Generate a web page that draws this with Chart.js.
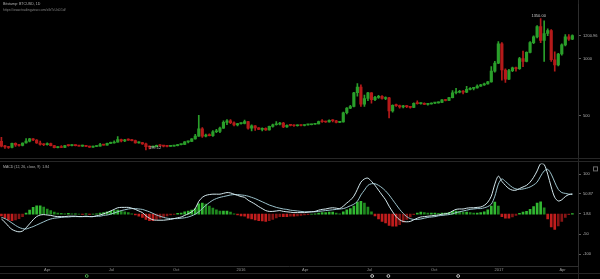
<!DOCTYPE html>
<html>
<head>
<meta charset="utf-8">
<title>BTCUSD 1D with MACD</title>
<script src="https://cdn.jsdelivr.net/npm/chart.js@4"></script>
<style>
  html, body { margin: 0; padding: 0; background: #000; }
  #wrap { position: relative; width: 600px; height: 279px; background: #000; overflow: hidden; }
  #wrap canvas { position: absolute; left: 0; }
  #priceChart { top: 0; }
  #macdChart { top: 159px; }
  .rule { position: absolute; background: #262626; }
</style>
</head>
<body>
<div id="wrap">
  <div class="rule" style="left:0;top:158px;width:600px;height:1px"></div>
  <div class="rule" style="left:0;top:161px;width:600px;height:1px"></div>
  <div class="rule" style="left:0;top:273px;width:600px;height:1px"></div>
  <div class="rule" style="left:578px;top:0;width:1px;height:279px"></div>
  <canvas id="priceChart" width="600" height="159"></canvas>
  <canvas id="macdChart" width="600" height="120"></canvas>
</div>
<script>
// Chart text
const chartTitle = "Bitstamp: BTCUSD, 1D";
const chartLink = "https://www.tradingview.com/x/bTcUsD1d/";
const macdTitle = "MACD (12, 26, close, 9)  1.84";

// Candles: one every 5 days, first one starting on this date
const firstCandle = "2015-01-26";
const periodDays = 5;
const viewStart = "2015-01-24";
const viewEnd = "2017-04-23";

const opens = [275,232,226,220,257,242,238,260,276,296,286,260,247,244,255,236,219,224,220,237,
  236,240,237,232,238,230,224,229,233,245,241,256,260,268,290,278,288,285,281,261,
  264,252,228,225,228,240,235,232,230,232,237,245,247,270,274,296,320,385,320,330,
  324,358,362,390,440,455,437,418,430,432,447,390,410,392,378,389,374,406,420,425,
  434,400,415,414,411,415,413,418,420,424,428,447,446,444,458,455,440,445,525,565,
  580,700,750,600,650,700,640,660,670,650,655,540,590,588,575,585,578,572,608,605,
  608,598,602,610,612,616,638,632,658,700,705,712,706,730,738,742,758,770,778,795,
  890,960,1130,900,820,895,918,912,1000,975,1055,1140,1190,1280,1160,1220,1245,990,945,1040,
  1120,1190,1170];
const highs = [310,240,230,260,262,248,262,298,300,298,290,276,254,262,258,240,229,237,240,243,
  246,244,240,242,240,232,232,236,256,249,258,268,278,315,294,292,296,292,285,270,
  266,258,234,233,242,245,237,233,238,240,248,249,272,276,298,335,502,395,338,340,
  368,380,400,455,465,465,445,432,436,460,450,420,412,395,392,392,408,425,447,442,
  440,418,420,420,418,420,420,424,426,430,452,465,452,462,464,458,446,530,570,590,
  705,780,770,680,705,702,670,677,675,665,660,595,600,592,590,590,580,612,630,612,
  612,605,612,615,620,640,642,660,720,740,722,720,756,745,745,770,775,785,800,930,
  975,1150,1140,910,905,925,925,1010,1065,1060,1150,1200,1290,1350,1330,1260,1255,1060,1045,1130,
  1210,1210,1208];
const lows = [225,212,213,216,230,232,235,258,270,280,255,240,236,241,234,216,216,218,218,232,
  234,235,231,230,228,220,222,227,232,240,240,254,258,266,270,272,282,278,258,258,
  248,199.12,208,222,226,234,226,225,229,231,235,242,246,260,272,294,318,308,314,322,
  318,350,350,388,420,430,410,410,425,428,380,365,370,376,365,370,372,398,416,418,
  395,396,410,406,408,410,410,416,418,422,427,440,440,442,445,436,438,442,515,560,
  575,670,580,580,630,610,630,650,645,640,480,530,580,565,568,570,565,570,600,600,
  595,592,600,604,608,614,628,630,655,690,698,690,700,725,726,740,755,765,775,792,
  880,955,810,790,815,885,890,905,930,970,1050,1130,1180,1140,975,1200,975,890,935,1030,
  1110,1160,1165];
const closes = [232,226,220,257,242,238,260,276,296,286,260,247,244,255,236,219,224,220,237,236,
  240,237,232,238,230,224,229,233,245,241,256,260,268,290,278,288,285,281,261,264,
  252,228,225,228,240,235,232,230,232,237,245,247,270,274,296,320,385,320,330,324,
  358,362,390,440,455,437,418,430,432,447,390,410,392,378,389,374,406,420,425,434,
  400,415,414,411,415,413,418,420,424,428,447,446,444,458,455,440,445,525,565,580,
  700,750,600,650,700,640,660,670,650,655,540,590,588,575,585,578,572,608,605,608,
  598,602,610,612,616,638,632,658,700,705,712,706,730,738,742,758,770,778,795,890,
  960,1130,900,820,895,918,912,1000,975,1055,1140,1190,1280,1160,1220,1245,990,945,1040,1120,
  1190,1170,1200.96];

// MACD pane
const macdLine = [-12,-20,-30,-38,-42,-44,-42,-34,-24,-14,-6,-2,-1,-2,-3,-5,-6,-6,-6,-5,
  -5,-5,-6,-6,-5,-6,-6,-4,-2,1,4,8,12,16,17,17,17,15,12,8,
  4,-4,-10,-14,-15,-15,-15,-14,-13,-11,-9,-7,-3,1,6,14,32,42,47,49,
  50,50,50,52,54,53,50,47,44,42,35,30,25,19,14,9,7,7,8,9,
  7,6,5,4,4,4,4,5,6,7,10,12,13,15,16,15,14,20,28,35,
  45,62,80,88,90,82,72,60,48,36,20,6,-6,-14,-18,-19,-18,-14,-10,-7,
  -6,-5,-4,-3,-2,0,1,3,8,12,13,13,15,16,16,17,18,22,30,45,
  75,95,82,72,64,60,60,64,68,72,80,92,108,126,124,100,68,42,33,36,
  44,49,50.87];
const signalLine = [-8,-11,-16,-22,-28,-33,-36,-37,-34,-31,-27,-23,-19,-15,-12,-10,-9,-8,-7,-7,
  -6,-6,-6,-6,-6,-6,-6,-5,-5,-3,-2,0,3,6,9,11,13,14,14,13,
  12,9,6,2,-2,-5,-8,-10,-11,-11,-11,-10,-9,-7,-4,0,6,14,22,29,
  35,39,42,44,46,48,49,49,48,47,45,42,39,35,31,27,23,20,17,15,
  13,12,10,9,8,7,6,6,6,6,7,8,9,10,11,12,13,14,17,21,
  25,32,48,60,72,76,76,72,66,58,48,36,24,12,2,-6,-11,-13,-13,-12,
  -10,-8,-7,-6,-4,-3,-2,-1,1,4,6,8,10,12,13,14,14,16,19,25,
  45,75,88,82,74,67,63,62,63,65,68,73,80,95,108,112,100,80,62,54,
  52,50,49.03];
const histogram = [-4,-9,-14,-16,-14,-11,-6,3,10,17,21,21,18,13,9,5,3,2,1,2,
  1,1,0.3,-0.3,1,-0.4,0.2,1,3,4,6,8,9,10,8,6,4,1,-2,-5,
  -8,-13,-16,-16,-13,-10,-7,-4,-2,-0.3,2,3,6,8,10,14,26,28,25,20,
  15,11,8,8,8,5,1,-2,-4,-5,-10,-12,-14,-16,-17,-18,-16,-13,-9,-6,
  -6,-6,-5,-5,-4,-3,-2,-1,0.2,1,3,4,4,5,5,3,1,6,11,14,
  20,30,32,28,18,6,-4,-12,-18,-22,-28,-30,-30,-26,-20,-13,-7,-1,3,5,
  4,3,3,3,2,3,3,4,7,8,7,5,5,4,3,3,4,6,11,20,
  30,20,-6,-10,-10,-7,-3,2,5,7,12,19,28,31,16,-12,-32,-38,-29,-18,
  -8,-1,1.84];

// Axis ticks
const priceTicks = [500, 1000, 1200.96];
const macdTicks = [100, 50.87, 1.84, -50, -100];
const tickDates = ["2015-04-01","2015-07-01","2015-10-01","2016-01-01","2016-04-01","2016-07-01","2016-10-01","2017-01-01","2017-04-01"];
const tickLabels = ["Apr","Jul","Oct","2016","Apr","Jul","Oct","2017","Apr"];
const eventDates = ["2015-05-27","2016-07-05","2016-07-28","2016-11-04"];

const upColor = "#2a9e2a";
const downColor = "#b51a1a";
const font = '"Liberation Sans", Arial, sans-serif';

// date string -> position in candle units
function dateToIndex(d) {
    return (Date.parse(d) - Date.parse(firstCandle)) / (periodDays * 86400000);
}
const xMin = dateToIndex(viewStart);
const xMax = dateToIndex(viewEnd);

const candleColors = opens.map((o, i) => closes[i] >= o ? upColor : downColor);
const histColors = histogram.map((h, i) => {
    const prev = i > 0 ? histogram[i - 1] : 0;
    if (h >= 0) return h >= prev ? "#32b832" : "#1f8a1f";
    return h <= prev ? "#c21d1d" : "#861414";
});

function rightAxis(min, max, ticks, fmt) {
    return {
        position: "right", min: min, max: max,
        afterFit(s) { s.width = 22; },
        afterBuildTicks(s) { s.ticks = ticks.map(v => ({ value: v })); },
        ticks: { autoSkip: false, padding: 2, color: "#b4b4b4", font: { size: 4, family: font }, callback: fmt },
        grid: { drawOnChartArea: false, drawTicks: true, tickLength: 3, color: "#5a5a5a" },
        border: { display: true, color: "#2e2e2e" }
    };
}

// Text on the price pane: title, link, highest and lowest price
const priceLabels = {
    id: "priceLabels",
    afterDraw(chart) {
        const { ctx, scales: { x, y } } = chart;
        ctx.save();
        ctx.textBaseline = "middle";
        ctx.font = "3.6px " + font;
        ctx.fillStyle = "#b0b0b0";
        ctx.fillText(chartTitle, 3, 4);
        ctx.font = "3.4px " + font;
        ctx.fillStyle = "#808080";
        ctx.fillText(chartLink, 3, 10);

        const hi = highs.indexOf(Math.max(...highs));
        const lo = lows.indexOf(Math.min(...lows));
        ctx.font = "4px " + font;
        ctx.fillStyle = "#c8c8c8";
        ctx.textAlign = "center";
        ctx.fillText(highs[hi].toFixed(2), x.getPixelForValue(hi) - 2, y.getPixelForValue(highs[hi]) - 3);
        ctx.textAlign = "left";
        ctx.fillText(lows[lo].toFixed(2), x.getPixelForValue(lo) + 3, y.getPixelForValue(lows[lo]) - 2);
        ctx.restore();
    }
};

// Text on the MACD pane and the event markers under the time axis
const macdLabels = {
    id: "macdLabels",
    afterDraw(chart) {
        const { ctx, scales: { x }, chartArea } = chart;
        ctx.save();
        ctx.textBaseline = "middle";
        ctx.font = "3.5px " + font;
        ctx.fillStyle = "#b0b0b0";
        ctx.fillText(macdTitle, 3, chartArea.top + 4);
        ctx.strokeStyle = "#6a6a6a";
        ctx.lineWidth = 1;
        ctx.strokeRect(593.5, chartArea.top + 3.5, 4, 4);
        eventDates.forEach((d, i) => {
            ctx.beginPath();
            ctx.arc(x.getPixelForValue(dateToIndex(d)), 117, 1.4, 0, Math.PI * 2);
            ctx.strokeStyle = i === 0 ? "#4caf50" : "#c8c8c8";
            ctx.stroke();
        });
        ctx.restore();
    }
};

new Chart(document.getElementById("priceChart"), {
    type: "bar",
    data: {
        datasets: [
            {
                data: highs.map((h, i) => ({ x: i, y: [lows[i], h] })),
                backgroundColor: candleColors, barThickness: 1, grouped: false, order: 2
            },
            {
                data: opens.map((o, i) => ({ x: i, y: [o, closes[i]] })),
                backgroundColor: candleColors, barThickness: 2.5, grouped: false, minBarLength: 1, order: 1
            }
        ]
    },
    options: {
        responsive: false, animation: false, devicePixelRatio: 1, events: [],
        layout: { padding: 0 },
        plugins: { legend: { display: false }, tooltip: { enabled: false } },
        scales: {
            x: { type: "linear", min: xMin, max: xMax, offset: false, display: false },
            y: rightAxis(158, 1475, priceTicks, v => v === 1200.96 ? "1200.96" : String(v))
        }
    },
    plugins: [priceLabels]
});

new Chart(document.getElementById("macdChart"), {
    type: "bar",
    data: {
        datasets: [
            {
                type: "line", data: macdLine.map((v, i) => ({ x: i, y: v })),
                borderColor: "#d4e9ee", borderWidth: 1, pointRadius: 0, tension: 0.3, order: 1
            },
            {
                type: "line", data: signalLine.map((v, i) => ({ x: i, y: v })),
                borderColor: "#9cc3cc", borderWidth: 1, pointRadius: 0, tension: 0.3, order: 2
            },
            {
                data: histogram.map((v, i) => ({ x: i, y: v })),
                backgroundColor: histColors, barThickness: 2, grouped: false, order: 3
            }
        ]
    },
    options: {
        responsive: false, animation: false, devicePixelRatio: 1, events: [],
        layout: { padding: { top: 2 } },
        plugins: { legend: { display: false }, tooltip: { enabled: false } },
        scales: {
            x: {
                type: "linear", min: xMin, max: xMax, offset: false,
                afterFit(s) { s.height = 13; },
                afterBuildTicks(s) { s.ticks = tickDates.map(d => ({ value: dateToIndex(d) })); },
                ticks: {
                    autoSkip: false, maxRotation: 0, padding: 1, color: "#9a9a9a",
                    font: { size: 4, family: font },
                    callback: (v, i) => tickLabels[i]
                },
                grid: { display: true, drawOnChartArea: false, drawTicks: false, color: "#2e2e2e" },
                border: { display: true, color: "#2e2e2e" }
            },
            y: rightAxis(-129.3, 126.8, macdTicks, v => String(v))
        }
    },
    plugins: [macdLabels]
});
</script>
</body>
</html>
